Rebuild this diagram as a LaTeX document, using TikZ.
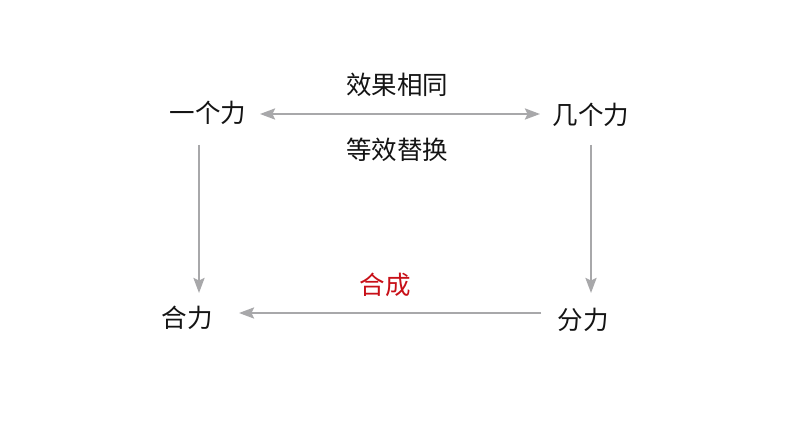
\documentclass[tikz,border=0pt]{standalone}
\usepackage{fontspec}
\setmainfont{Noto Sans CJK SC}
\usetikzlibrary{arrows.meta}
\definecolor{arrgray}{RGB}{168,168,170}
\definecolor{synred}{RGB}{200,16,24}
\definecolor{txt}{RGB}{20,20,20}
\begin{document}
\begin{tikzpicture}[x=1pt,y=1pt,
  lbl/.style={inner sep=0pt, text=txt, font=\fontsize{25.5}{30}\selectfont},
  tip/.style={arrows={#1}},
  arr/.style={draw=arrgray, line width=2.4pt, arrows={-Stealth[length=15pt,width=11pt,inset=2.5pt]}},
  darr/.style={draw=arrgray, line width=2.4pt, arrows={Stealth[length=15pt,width=11pt,inset=2.5pt]-Stealth[length=15pt,width=11pt,inset=2.5pt]}}]
\useasboundingbox[fill=white] (0,0) rectangle (794,447);
\node[lbl] (one) at (208,334) {一个力};
\node[lbl] (several) at (591,332) {几个力};
\node[lbl] (resultant) at (187,129) {合力};
\node[lbl] (components) at (583,127) {分力};
\node[lbl] (same) at (397,362) {效果相同};
\node[lbl] (equiv) at (397,297) {等效替换};
\node[lbl, text=synred] (synth) at (385,162) {合成};
\draw[darr] ([xshift=52pt,yshift=-1pt]one.center) -- ([xshift=-51pt,yshift=1pt]several.center);
\draw[arr] ([xshift=-9pt,yshift=-32pt]one.center) -- ([xshift=12pt,yshift=25pt]resultant.center);
\draw[arr] ([yshift=-30pt]several.center) -- ([xshift=8pt,yshift=27pt]components.center);
\draw[arr] ([xshift=-42pt,yshift=7pt]components.center) -- ([xshift=52pt,yshift=5pt]resultant.center);
\end{tikzpicture}
\end{document}
